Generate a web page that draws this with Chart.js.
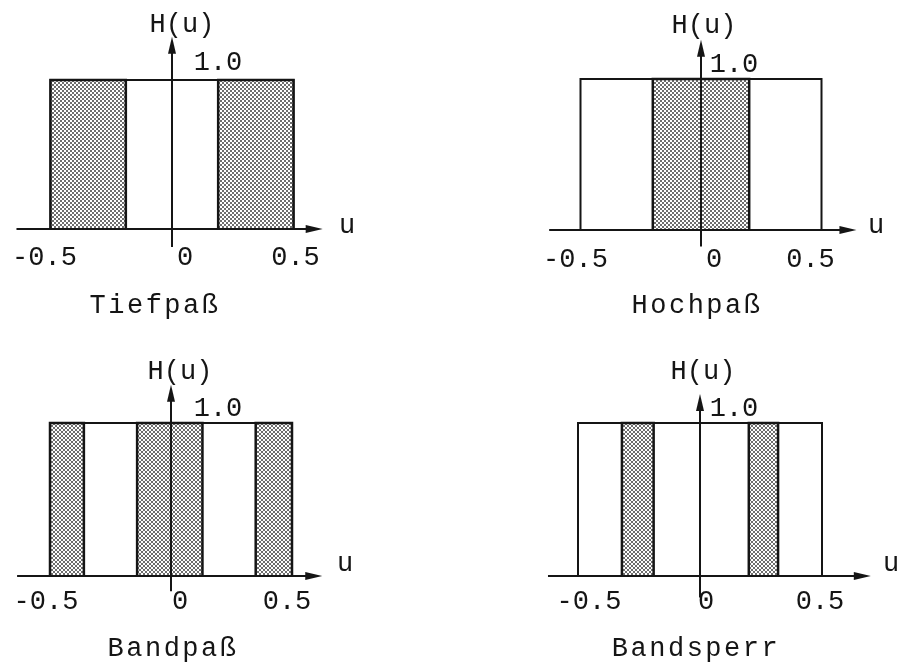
<!DOCTYPE html>
<html>
<head>
<meta charset="utf-8">
<script src="https://cdn.jsdelivr.net/npm/chart.js@4"></script>
<style>
  html, body { margin: 0; padding: 0; background: #fff; overflow: hidden; }
  #page { position: relative; width: 903px; height: 668px; }
  canvas { position: absolute; }
</style>
</head>
<body>
<div id="page">
  <canvas id="tiefpass"></canvas>
  <canvas id="hochpass"></canvas>
  <canvas id="bandpass"></canvas>
  <canvas id="bandsperr"></canvas>
</div>
<script>
// values
const uEdges = [-0.5, 0.5];
const hLevel = 1.0;
const tickValues = [-0.5, 0, 0.5];
const tickLabels = ['-0.5', '0', '0.5'];
const yLabel = 'H(u)';
const xLabel = 'u';
const levelLabel = '1.0';
const titles = ['Tiefpaß', 'Hochpaß', 'Bandpaß', 'Bandsperr'];

// shaded bands [from, to] in u
const tiefpassBands = [[-0.5, -0.19], [0.19, 0.5]];
const hochpassBands = [[-0.2, 0.2]];
const bandpassBands = [[-0.5, -0.36], [-0.14, 0.13], [0.35, 0.5]];
const bandsperrBands = [[-0.32, -0.19], [0.2, 0.32]];

const ink = '#151515';
const font = '"Liberation Mono", "Courier New", monospace';

// placement of each panel on the page (pixel of u=0 / H=0, px per unit)
const panels = [
  { id: 'tiefpass', title: titles[0], bands: tiefpassBands, x0: 172, y0: 229, sx: 243, sy: 149,
    xAxis: [-0.64, 0.62], yAxis: [-0.12, 1.29], tickDx: [-6, 13, 2], tickDy: 36,
    uPos: [175, 4], hPos: [10, -48], levelPos: [46, -10], titlePos: [-17, 84] },
  { id: 'hochpass', title: titles[1], bands: hochpassBands, x0: 701, y0: 230, sx: 241, sy: 151,
    xAxis: [-0.63, 0.645], yAxis: [-0.11, 1.26], tickDx: [-5, 13, -11], tickDy: 37,
    uPos: [175, 3], hPos: [3, -46], levelPos: [33, -7], titlePos: [-4, 83] },
  { id: 'bandpass', title: titles[2], bands: bandpassBands, x0: 171, y0: 576, sx: 242, sy: 153,
    xAxis: [-0.636, 0.625], yAxis: [-0.1, 1.25], tickDx: [-4, 9, -5], tickDy: 33,
    uPos: [174, -5], hPos: [9, -44], levelPos: [47, -7], titlePos: [2, 80] },
  { id: 'bandsperr', title: titles[3], bands: bandsperrBands, x0: 700, y0: 576, sx: 244, sy: 153,
    xAxis: [-0.623, 0.7], yAxis: [-0.14, 1.19], tickDx: [11, 6, -2], tickDy: 33,
    uPos: [191, -5], hPos: [3, -44], levelPos: [34, -7], titlePos: [-4, 80] }
];

// dotted screen used for the shaded bands
function makeDots() {
  const c = document.createElement('canvas');
  c.width = 4; c.height = 4;
  const g = c.getContext('2d');
  g.fillStyle = '#fff';
  g.fillRect(0, 0, 4, 4);
  g.fillStyle = '#6e6e6e';
  g.fillRect(0, 0, 2, 2);
  g.fillRect(2, 2, 2, 2);
  return g.createPattern(c, 'repeat');
}
const dots = makeDots();

function arrowHead(ctx, x, y, dir) {
  // dir: 'right' or 'up'
  ctx.beginPath();
  if (dir === 'right') {
    ctx.moveTo(x, y);
    ctx.lineTo(x - 17, y - 4);
    ctx.lineTo(x - 17, y + 4);
  } else {
    ctx.moveTo(x, y);
    ctx.lineTo(x - 4, y + 17);
    ctx.lineTo(x + 4, y + 17);
  }
  ctx.closePath();
  ctx.fill();
}

function decor(p) {
  return {
    id: 'decor',
    afterDatasetsDraw(chart) {
      const ctx = chart.ctx;
      const X = v => chart.scales.x.getPixelForValue(v);
      const Y = v => chart.scales.y.getPixelForValue(v);
      ctx.save();
      ctx.strokeStyle = ink;
      ctx.fillStyle = ink;
      ctx.lineWidth = 2;

      // u axis
      const ay = Y(0);
      ctx.beginPath();
      ctx.moveTo(X(p.xAxis[0]), ay);
      ctx.lineTo(X(p.xAxis[1]) - 10, ay);
      ctx.stroke();
      arrowHead(ctx, X(p.xAxis[1]), ay, 'right');

      // H axis
      const ax = X(0);
      ctx.beginPath();
      ctx.moveTo(ax, Y(p.yAxis[0]));
      ctx.lineTo(ax, Y(p.yAxis[1]) + 10);
      ctx.stroke();
      arrowHead(ctx, ax, Y(p.yAxis[1]), 'up');

      // texts
      ctx.font = '27px ' + font;
      ctx.textAlign = 'center';
      ctx.textBaseline = 'alphabetic';
      tickValues.forEach((v, i) => {
        ctx.fillText(tickLabels[i], X(v) + p.tickDx[i], ay + p.tickDy);
      });
      ctx.fillText(xLabel, ax + p.uPos[0], ay + p.uPos[1]);
      const top = Y(hLevel);
      ctx.fillText(yLabel, ax + p.hPos[0], top + p.hPos[1]);
      ctx.fillText(levelLabel, ax + p.levelPos[0], top + p.levelPos[1]);
      ctx.letterSpacing = '2.5px';
      ctx.fillText(p.title, ax + p.titlePos[0], ay + p.titlePos[1]);
      ctx.restore();
    }
  };
}

function makeChart(p) {
  const canvas = document.getElementById(p.id);
  const w = Math.round(1.7 * p.sx);
  const h = Math.round(2.2 * p.sy);
  const left = Math.round(p.x0 - 0.8 * p.sx);
  const topPx = Math.round(p.y0 - 1.55 * p.sy);
  canvas.width = w;
  canvas.height = h;
  canvas.style.left = left + 'px';
  canvas.style.top = topPx + 'px';
  const xMin = -(p.x0 - left) / p.sx;
  const yMax = (p.y0 - topPx) / p.sy;

  const datasets = p.bands.map(b => ({
    data: [{ x: b[0], y: 0 }, { x: b[0], y: hLevel }, { x: b[1], y: hLevel }, { x: b[1], y: 0 }],
    borderColor: ink,
    borderWidth: 2.5,
    backgroundColor: dots,
    fill: { value: 0 },
    pointRadius: 0,
    tension: 0
  }));
  datasets.push({
    data: [{ x: uEdges[0], y: 0 }, { x: uEdges[0], y: hLevel }, { x: uEdges[1], y: hLevel }, { x: uEdges[1], y: 0 }],
    borderColor: ink,
    borderWidth: 2,
    fill: false,
    pointRadius: 0,
    tension: 0
  });

  return new Chart(canvas, {
    type: 'line',
    data: { datasets: datasets },
    options: {
      responsive: false,
      animation: false,
      layout: { padding: 0 },
      scales: {
        x: { type: 'linear', min: xMin, max: xMin + w / p.sx, display: false },
        y: { type: 'linear', min: yMax - h / p.sy, max: yMax, display: false }
      },
      plugins: { legend: { display: false }, tooltip: { enabled: false } }
    },
    plugins: [decor(p)]
  });
}

panels.forEach(makeChart);
</script>
</body>
</html>
